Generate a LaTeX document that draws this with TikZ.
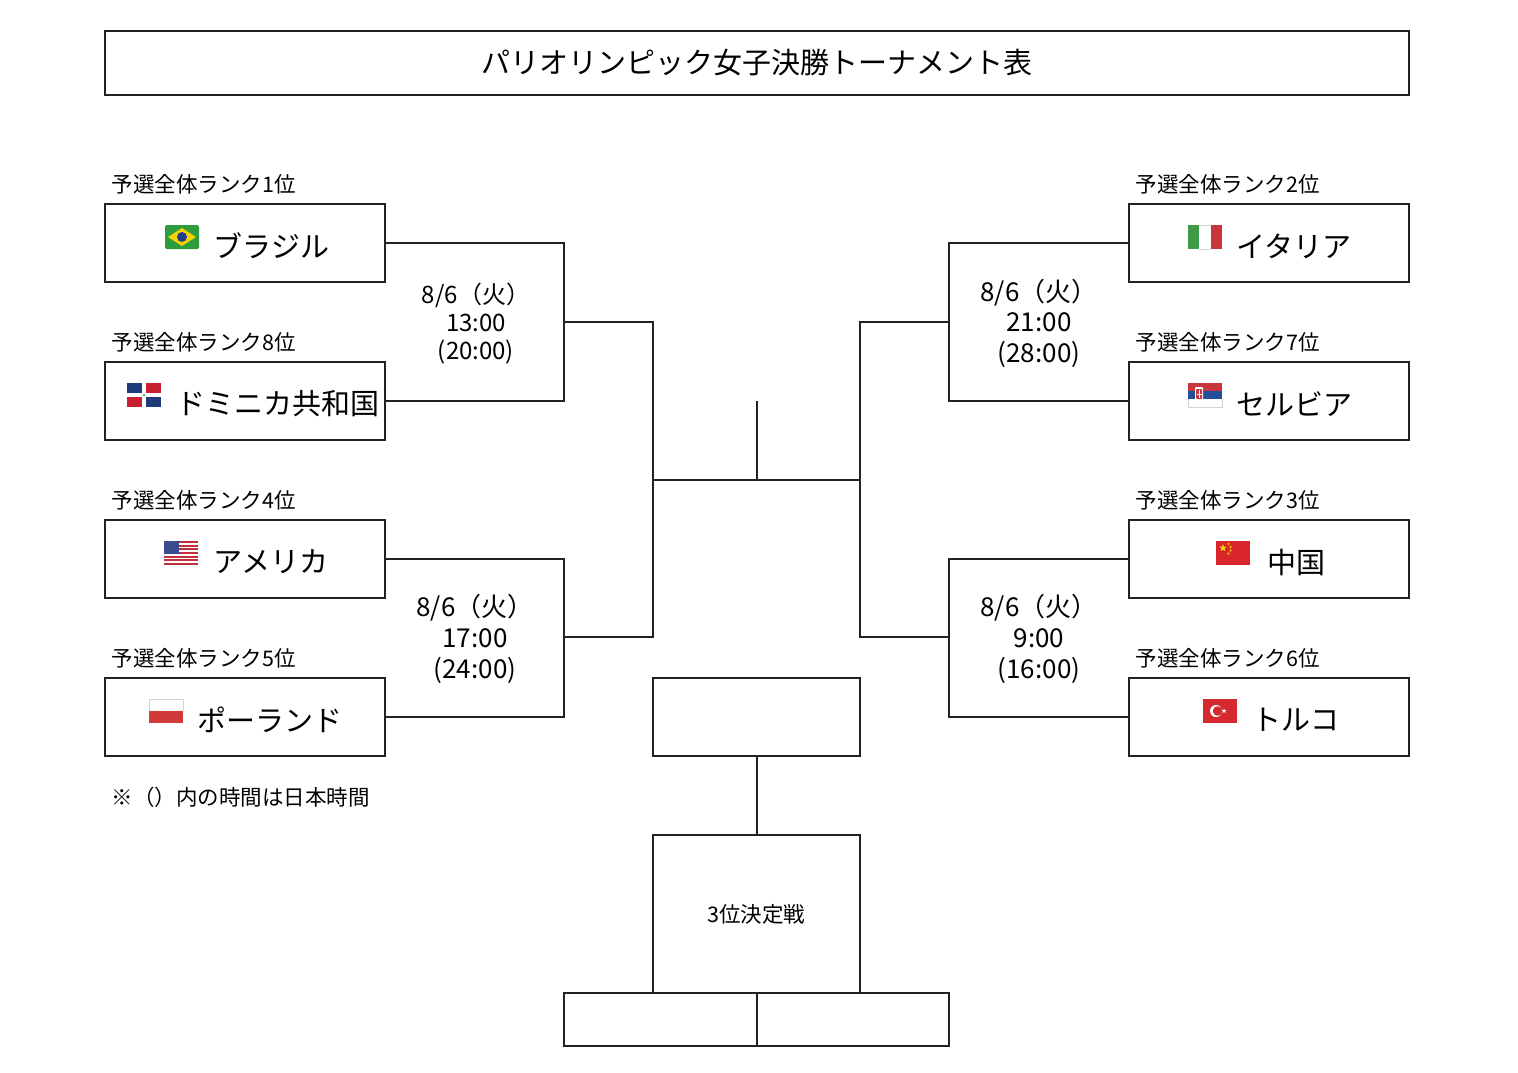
\documentclass[tikz,border=0pt]{standalone}
\usepackage{fontspec}
\setmainfont{Noto Sans CJK JP}
\usetikzlibrary{shapes.geometric}
\definecolor{brgreen}{HTML}{2E9B3F}
\definecolor{bryellow}{HTML}{F2D300}
\definecolor{brblue}{HTML}{1F3D8C}
\definecolor{doblue}{HTML}{1E3A78}
\definecolor{dored}{HTML}{C8202F}
\definecolor{usred}{HTML}{C0303A}
\definecolor{usblue}{HTML}{3C4A8E}
\definecolor{plred}{HTML}{D23A3A}
\definecolor{itgreen}{HTML}{3E9A48}
\definecolor{itred}{HTML}{C8353A}
\definecolor{rsred}{HTML}{C9373C}
\definecolor{rsblue}{HTML}{244F9A}
\definecolor{cnred}{HTML}{D8262A}
\definecolor{cnyellow}{HTML}{F5D000}
\definecolor{trred}{HTML}{D42A2F}
\definecolor{ln}{HTML}{222222}
\tikzset{
  teambox/.style={draw=ln, minimum width=280pt, minimum height=78pt, inner sep=0pt},
  plainbox/.style={draw=ln, inner sep=0pt},
  ranklabel/.style={anchor=west, inner sep=0pt, font=\fontsize{21.5}{25}\selectfont},
  teamname/.style={anchor=west, inner sep=0pt, font=\fontsize{29}{34}\selectfont},
  matchtxt/.style={align=center, inner sep=0pt},
  bracket/.style={draw=ln, line width=1.4pt},
  smallstar/.style={star, star points=5, star point ratio=2.4, inner sep=0pt, draw=none},
  flagbra/.pic={
    \fill[brgreen, rounded corners=1.5pt] (0,0) rectangle (34,24);
    \fill[bryellow] (3,12) -- (17,3) -- (31,12) -- (17,21) -- cycle;
    \fill[brblue] (17,12) circle (5pt);
  },
  flagdom/.pic={
    \fill[white] (0,0) rectangle (34,24);
    \fill[doblue] (0,0) rectangle (15,10);
    \fill[dored] (19,0) rectangle (34,10);
    \fill[dored] (0,14) rectangle (15,24);
    \fill[doblue] (19,14) rectangle (34,24);
    \fill[brgreen!70] (17,12) circle (1.5pt);
  },
  flagusa/.pic={
    \fill[white] (0,0) rectangle (34,24);
    \foreach \i in {0,2,4,6,8,10,12}{
      \fill[usred] (0,{\i*24/13}) rectangle (34,{(\i+1)*24/13});
    }
    \fill[usblue] (0,0) rectangle (15,{7*24/13});
  },
  flagpol/.pic={
    \fill[white] (0,0) rectangle (34,12);
    \draw[gray!35, line width=0.5pt] (0,12) -- (0,0) -- (34,0) -- (34,12);
    \fill[plred] (0,12) rectangle (34,24);
  },
  flagita/.pic={
    \fill[itgreen] (0,0) rectangle (11.33,24);
    \fill[white] (11.33,0) rectangle (22.67,24);
    \draw[gray!35, line width=0.5pt] (11.33,0) -- (22.67,0) (11.33,24) -- (22.67,24);
    \fill[itred] (22.67,0) rectangle (34,24);
  },
  flagsrb/.pic={
    \fill[rsred] (0,0) rectangle (34,8);
    \fill[rsblue] (0,8) rectangle (34,16);
    \fill[white] (0,16) rectangle (34,24);
    \draw[gray!35, line width=0.5pt] (0,16) -- (0,24) -- (34,24) -- (34,16);
    \fill[white, rounded corners=1pt] (7,4) rectangle (15,18);
    \fill[rsred, rounded corners=1pt] (8,6) rectangle (14,16);
    \fill[white] (10.5,7) rectangle (11.5,15);
    \fill[white] (8.5,10.5) rectangle (13.5,11.5);
  },
  flagchn/.pic={
    \fill[cnred] (0,0) rectangle (34,24);
    \node[smallstar, fill=cnyellow, minimum size=8pt] at (7,7) {};
    \node[smallstar, fill=cnyellow, minimum size=3pt] at (12.5,3) {};
    \node[smallstar, fill=cnyellow, minimum size=3pt] at (14.5,6) {};
    \node[smallstar, fill=cnyellow, minimum size=3pt] at (14.5,9.5) {};
    \node[smallstar, fill=cnyellow, minimum size=3pt] at (12.5,12.5) {};
  },
  flagtur/.pic={
    \fill[trred] (0,0) rectangle (34,24);
    \fill[white] (13,12) circle (6pt);
    \fill[trred] (14.6,12) circle (4.8pt);
    \node[smallstar, fill=white, minimum size=5pt] at (21,12) {};
  },
}
\begin{document}
\begin{tikzpicture}[x=1pt, y=-1pt, line width=1.4pt]
\useasboundingbox (0,0) rectangle (1518,1072);

% title
\node[plainbox, minimum width=1304pt, minimum height=64pt,
      font=\fontsize{29}{34}\selectfont] (title) at (757,63)
      {パリオリンピック女子決勝トーナメント表};

% left team boxes
\node[teambox] (bra) at (245,243) {};
\node[teambox] (dom) at (245,401) {};
\node[teambox] (usa) at (245,559) {};
\node[teambox] (pol) at (245,717) {};
% right team boxes
\node[teambox] (ita) at (1269,243) {};
\node[teambox] (srb) at (1269,401) {};
\node[teambox] (chn) at (1269,559) {};
\node[teambox] (tur) at (1269,717) {};

% rank labels
\node[ranklabel] (rbra) at (111,184) {予選全体ランク1位};
\node[ranklabel] (rdom) at (111,342) {予選全体ランク8位};
\node[ranklabel] (rusa) at (111,500) {予選全体ランク4位};
\node[ranklabel] (rpol) at (111,658) {予選全体ランク5位};
\node[ranklabel] (rita) at (1135,184) {予選全体ランク2位};
\node[ranklabel] (rsrb) at (1135,342) {予選全体ランク7位};
\node[ranklabel] (rchn) at (1135,500) {予選全体ランク3位};
\node[ranklabel] (rtur) at (1135,658) {予選全体ランク6位};

% flags
\pic at (165,225) {flagbra};
\pic at (127,383) {flagdom};
\pic at (164,541) {flagusa};
\pic at (149,699) {flagpol};
\pic at (1188,225) {flagita};
\pic at (1188,383) {flagsrb};
\pic at (1216,541) {flagchn};
\pic at (1203,699) {flagtur};

% team names
\node[teamname] (nbra) at (213,246) {ブラジル};
\node[teamname] (ndom) at (176,404) {ドミニカ共和国};
\node[teamname] (nusa) at (213,562) {アメリカ};
\node[teamname] (npol) at (197,720) {ポーランド};
\node[teamname] (nita) at (1236,246) {イタリア};
\node[teamname] (nsrb) at (1236,404) {セルビア};
\node[teamname] (nchn) at (1267,562) {中国};
\node[teamname] (ntur) at (1252,720) {トルコ};

% bracket coordinates
\coordinate (m1) at (564,322);
\coordinate (m2) at (564,637);
\coordinate (m3) at (949,322);
\coordinate (m4) at (949,637);
\coordinate (s1) at (653,480);
\coordinate (s2) at (860,480);
\coordinate (ft) at (757,401);

% quarterfinal brackets
\draw[bracket] (bra.east) -| (m1) |- (dom.east);
\draw[bracket] (usa.east) -| (m2) |- (pol.east);
\draw[bracket] (ita.west) -| (m3) |- (srb.west);
\draw[bracket] (chn.west) -| (m4) |- (tur.west);
% semifinal brackets
\draw[bracket] (m1) -| (s1) |- (m2);
\draw[bracket] (m3) -| (s2) |- (m4);
\draw[bracket] (s1) -- (s2);
\draw[bracket] (ft) -- (ft |- s1);

% match times
\node[matchtxt, font=\fontsize{24}{28}\selectfont] (t1) at (476,324)
  {8/6（火）\\13:00\\(20:00)};
\node[matchtxt, font=\fontsize{26}{31}\selectfont] (t2) at (475,639)
  {8/6（火）\\17:00\\(24:00)};
\node[matchtxt, font=\fontsize{26}{30.5}\selectfont] (t3) at (1039,323)
  {8/6（火）\\21:00\\(28:00)};
\node[matchtxt, font=\fontsize{26}{31}\selectfont] (t4) at (1039,639)
  {8/6（火）\\9:00\\(16:00)};

% final and third-place
\node[plainbox, minimum width=207pt, minimum height=78pt] (final) at (756.5,717) {};
\node[plainbox, minimum width=207pt, minimum height=158pt,
      font=\fontsize{21.5}{25}\selectfont] (third) at (756.5,914) {3位決定戦};
\draw[bracket] (final.south -| ft) -- (third.north -| ft);
\node[plainbox, minimum width=193pt, minimum height=53pt] (b1) at (660.5,1019.5) {};
\node[plainbox, minimum width=192pt, minimum height=53pt] (b2) at (853,1019.5) {};

% note
\node[ranklabel] (note) at (111,797) {※（）内の時間は日本時間};
\end{tikzpicture}
\end{document}
